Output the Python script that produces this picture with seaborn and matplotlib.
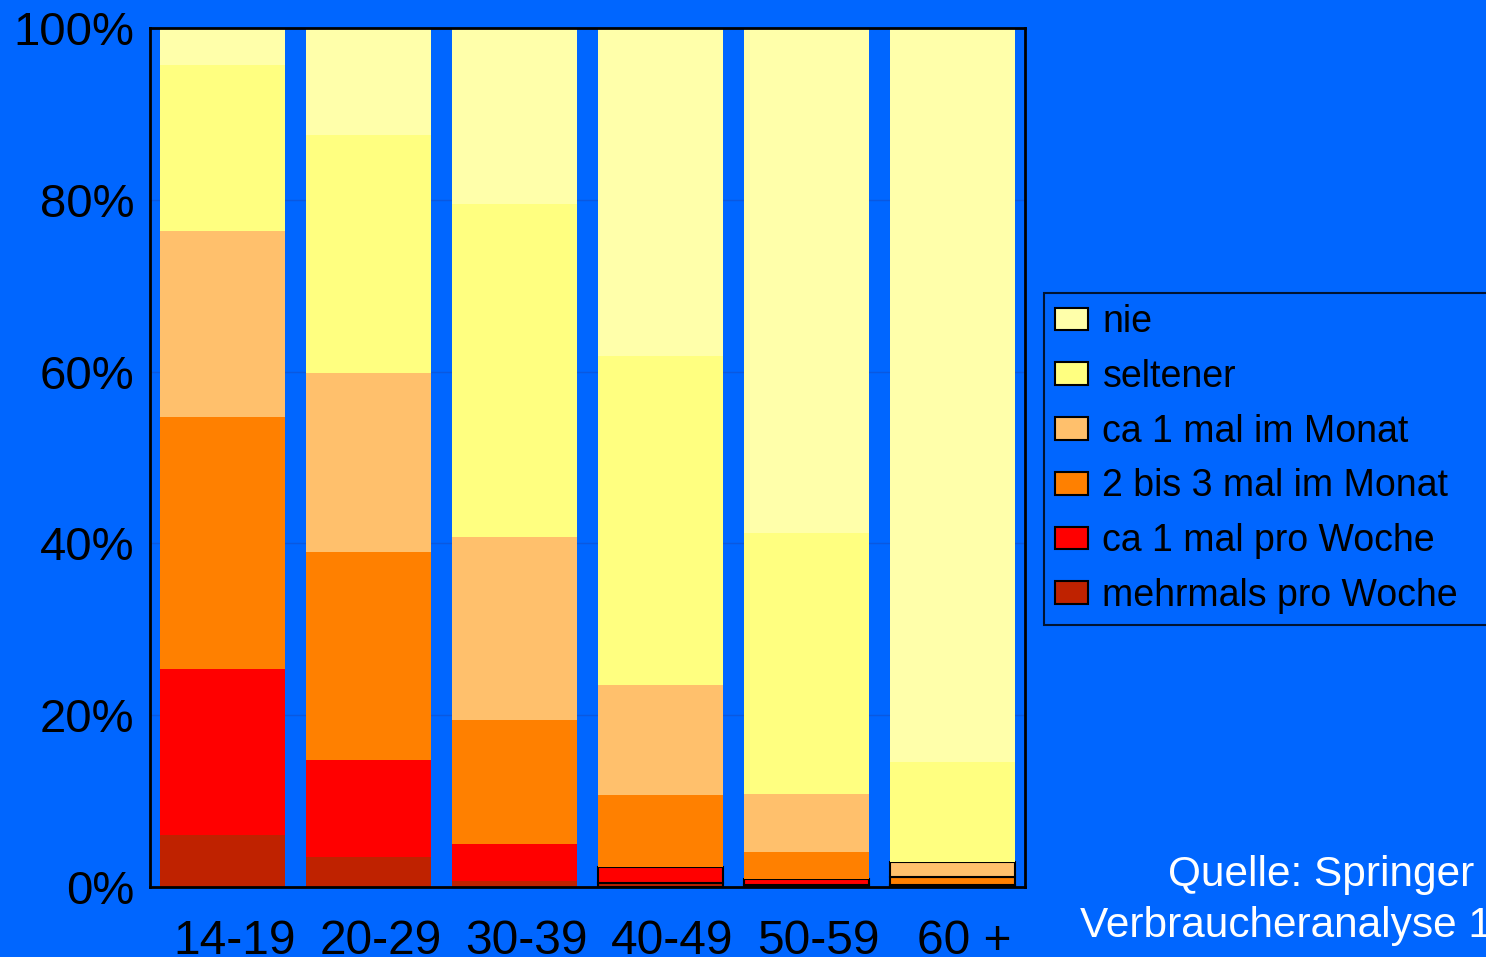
import numpy as np
import pandas as pd
import seaborn as sns
import matplotlib.pyplot as plt
import matplotlib.transforms as mtransforms
from matplotlib.patches import Patch

# age groups and share (%) per frequency class
age_groups = ['14-19', '20-29', '30-39', '40-49', '50-59', '60 +']
mehrmals_pro_woche = [6.0, 3.5, 0.7, 0.5, 0.2, 0.1]
ca_1_pro_woche = [19.4, 11.3, 4.3, 1.8, 0.7, 0.1]
bis_3_im_monat = [29.3, 24.2, 14.4, 8.4, 3.2, 1.0]
ca_1_im_monat = [21.7, 20.8, 21.3, 12.8, 6.7, 1.7]
seltener = [19.3, 27.7, 38.8, 38.3, 30.4, 11.7]
nie = [4.3, 12.5, 20.5, 38.2, 58.8, 85.4]

labels = ['mehrmals pro Woche', 'ca 1 mal pro Woche', '2 bis 3 mal im Monat',
          'ca 1 mal im Monat', 'seltener', 'nie']
colors = ['#BF2200', '#FF0000', '#FF8000', '#FFC06C', '#FFFF80', '#FFFFAA']
series = [mehrmals_pro_woche, ca_1_pro_woche, bis_3_im_monat,
          ca_1_im_monat, seltener, nie]

bg = '#0066FF'
sns.set_style('white')
plt.rcParams['font.family'] = ['Liberation Sans', 'DejaVu Sans']
plt.rcParams['text.color'] = 'black'
plt.rcParams['xtick.color'] = 'black'
plt.rcParams['ytick.color'] = 'black'

fig = plt.figure(figsize=(14.86, 9.57), dpi=100, facecolor=bg)
ax = fig.add_axes([150 / 1486, 70 / 957, 875 / 1486, 859 / 957])
ax.set_facecolor(bg)

bottom = np.zeros(len(age_groups))
for lab, col, vals in zip(labels, colors, series):
    df = pd.DataFrame({'age': age_groups, 'val': vals})
    sns.barplot(data=df, x='age', y='val', order=age_groups, color=col,
                width=0.857, bottom=bottom, linewidth=0, saturation=1,
                errorbar=None, ax=ax)
    bottom = bottom + np.array(vals)

# tiny segments of the older groups get a black outline like in the original
for p in ax.patches:
    if p.get_height() < 3 and p.get_x() > 2.5:
        p.set_edgecolor('black')
        p.set_linewidth(1.5)

ax.set_ylim(0, 100)
ax.set_xlim(-0.5, 5.5)
ax.set_yticks([0, 20, 40, 60, 80, 100])
ax.set_yticklabels(['0%', '20%', '40%', '60%', '80%', '100%'], fontsize=34)
ax.set_xticklabels(age_groups, fontsize=34.5)
ax.set_xlabel('')
ax.set_ylabel('')
ax.yaxis.grid(True, color='#0A58E0', linewidth=1)
ax.set_axisbelow(True)
ax.tick_params(axis='y', length=9, color='#1F4FB0', labelcolor='black', pad=2.5)
ax.tick_params(axis='x', length=12, color='#1F4FB0', labelcolor='black', pad=11)
shift = mtransforms.ScaledTranslation(12 / 100, 0, fig.dpi_scale_trans)
for t in ax.get_xticklabels():
    t.set_transform(t.get_transform() + shift)
for s in ax.spines.values():
    s.set_visible(True)
    s.set_color('black')
    s.set_linewidth(2)

handles = [Patch(facecolor=c, edgecolor='black', linewidth=1.5)
           for c in colors[::-1]]
leg = fig.legend(handles, labels[::-1], loc='upper left',
                 bbox_to_anchor=(1044 / 1486, 0, 0.32, (957 - 293) / 957),
                 mode='expand', fontsize=27, frameon=True, fancybox=False,
                 borderaxespad=0, labelspacing=0.5, handlelength=0.88,
                 handleheight=0.55, handletextpad=0.38, borderpad=0.3)
leg.get_frame().set_facecolor(bg)
leg.get_frame().set_edgecolor('black')
leg.get_frame().set_linewidth(1.5)
for t in leg.get_texts():
    t.set_color('black')

fig.text(1474 / 1486, 1 - 886 / 957, 'Quelle: Springer', ha='right',
         va='baseline', fontsize=30.5, color='white')
fig.text(1080 / 1486, 1 - 937 / 957, 'Verbraucheranalyse 1', ha='left',
         va='baseline', fontsize=30.5, color='white')

plt.savefig('out.png', dpi=100, facecolor=bg)
